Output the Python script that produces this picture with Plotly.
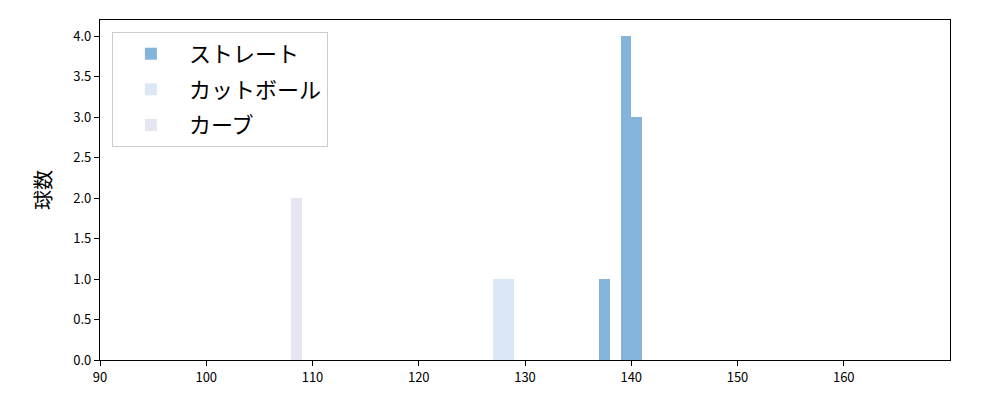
import plotly.graph_objects as go

# pitch speeds (km/h) by pitch type
straight = [137, 139, 139, 139, 139, 140, 140, 140]
cutball = [127, 128]
curve = [108, 108]

names = ["ストレート", "カットボール", "カーブ"]
colors = ["#84b4d9", "#dbe7f4", "#e6e6f1"]
series = [straight, cutball, curve]

x_ticks = [90, 100, 110, 120, 130, 140, 150, 160]
y_ticks = [0.0, 0.5, 1.0, 1.5, 2.0, 2.5, 3.0, 3.5, 4.0]

fig = go.Figure()
for name, col, vals in zip(names, colors, series):
    fig.add_trace(go.Histogram(
        x=vals, name=name, legendgroup=name,
        marker=dict(color=col, line=dict(width=0)),
        xbins=dict(start=90, end=170, size=1), opacity=1,
    ))

font = "Noto Sans CJK JP, Noto Sans, DejaVu Sans"
fig.update_layout(
    barmode="overlay",
    width=1000, height=400,
    margin=dict(l=92, r=58, t=12, b=48),
    paper_bgcolor="white", plot_bgcolor="white",
    font=dict(family=font, color="black", size=13),
    showlegend=True,
    legend=dict(
        x=0.014, y=0.965, xanchor="left", yanchor="top",
        bgcolor="rgba(255,255,255,0.8)", bordercolor="#cccccc", borderwidth=1,
        font=dict(size=22, family=font), tracegroupgap=4, itemwidth=66,
    ),
    bargap=0,
)
fig.update_xaxes(
    range=[90, 170], tickvals=x_ticks, ticktext=[str(v) for v in x_ticks],
    showgrid=False, zeroline=False, showline=True, linecolor="black", linewidth=1.2,
    mirror=True, ticks="outside", ticklen=5, tickcolor="black", tickfont=dict(size=13),
)
fig.update_yaxes(
    range=[0, 4.2], tickvals=y_ticks, ticktext=[f"{v:.1f}" for v in y_ticks],
    showgrid=False, zeroline=False, showline=True, linecolor="black", linewidth=1.2,
    mirror=True, ticks="outside", ticklen=5, tickcolor="black", tickfont=dict(size=13),
    title=dict(text="球数", font=dict(size=20), standoff=16),
)
fig.write_html("out.html")
